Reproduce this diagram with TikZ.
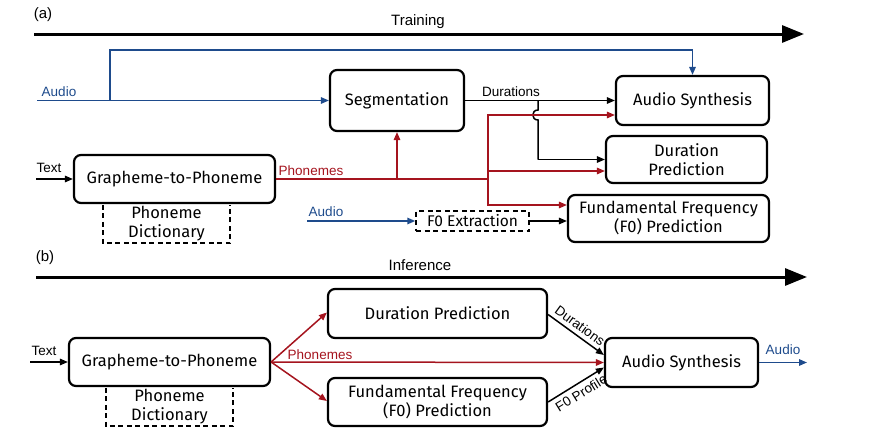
\documentclass[tikz,border=0pt]{standalone}
\usepackage{fontspec}
\setmainfont{Fira Sans}
\newfontfamily\lblfont{Liberation Sans}
\usetikzlibrary{arrows.meta}
\definecolor{cblue}{RGB}{30,75,140}
\definecolor{cred}{RGB}{165,20,30}
\begin{document}
\begin{tikzpicture}[x=1pt,y=-1pt,
  box/.style={draw,line width=2.2pt,rounded corners=7pt,align=center,inner sep=0pt,font=\fontsize{16.5}{19}\selectfont},
  dbox/.style={align=center,inner sep=0pt,font=\fontsize{16.5}{19}\selectfont},
  conn/.style={line width=1.5pt,-{Triangle[length=8pt,width=6.5pt]}},
  lbl/.style={font=\lblfont\fontsize{13.5}{16}\selectfont,inner sep=0pt},
  big/.style={line width=3pt,-{Triangle[length=22pt,width=17pt]}},
  ttl/.style={font=\lblfont\fontsize{15}{18}\selectfont,inner sep=0pt}]
\useasboundingbox (0,0) rectangle (876,447);
% ---------- (a) ----------
\node[ttl] (la) at (43,15) {(a)};
\coordinate (tr0) at (34,34);
\coordinate (tr1) at (804,34);
\draw[big] (tr0) -- (tr1);
\node[ttl] (training) at (418,22) {Training};

\node[box,minimum width=134pt,minimum height=61pt] (seg) at (397,100.5) {Segmentation};
\node[box,minimum width=153pt,minimum height=49pt] (asa) at (692.5,100.5) {Audio Synthesis};
\node[box,minimum width=161pt,minimum height=47pt] (dpa) at (686.5,159.5) {Duration\\Prediction};
\node[box,minimum width=201pt,minimum height=47pt] (f0a) at (668.5,218.5) {Fundamental Frequency\\(F0) Prediction};
\node[box,minimum width=201pt,minimum height=48pt] (g2pa) at (174.5,179) {Grapheme-to-Phoneme};
\node[dbox,minimum width=127pt,minimum height=38pt] (dicta) at (166.5,224) {Phoneme\\Dictionary};
\draw[dashed,line width=1.5pt,dash pattern=on 5pt off 3.5pt] (dicta.north west) |- (dicta.south east) -- (dicta.north east);
\node[dbox,draw,dashed,line width=1.5pt,dash pattern=on 5pt off 3.5pt,minimum width=113pt,minimum height=20pt,font=\fontsize{15.5}{17}\selectfont] (f0x) at (472.5,221) {F0 Extraction};

% blue audio
\coordinate (ain) at (37,100.5);
\coordinate (abr) at (110,100.5);
\coordinate (atop) at (110,50);
\draw[conn,cblue] (ain) -- (seg.west);
\draw[conn,cblue] (abr) -- (atop) -| (asa.north);
\node[lbl,text=cblue] (audioa) at (59,92) {Audio};

% durations
\draw[conn] (seg.east) -- (asa.west);
\node[lbl] (dura) at (511,92) {Durations};
\coordinate (db0) at (538,100.5);
\coordinate (db1) at (538,110);
\coordinate (db2) at (538,120);
\coordinate (db3) at (538,159.5);
\draw[line width=1.5pt] (db0) -- (db1) .. controls (531,110) and (531,120) .. (db2) -- (db3);
\draw[conn] (db3) -- (dpa.west);

% red phonemes
\coordinate (rs) at (397,179);
\coordinate (rj) at (488,179);
\draw[line width=1.5pt,cred] (g2pa.east) -- (rj);
\draw[conn,cred] (rs) -- (seg.south);
\draw[conn,cred] (rj) |- ([yshift=-14.5pt]asa.west);
\draw[conn,cred] (rj) |- ([yshift=-11.5pt]dpa.west);
\draw[conn,cred] (rj) |- ([yshift=13.5pt]f0a.west);
\node[lbl,text=cred] (phona) at (311,171) {Phonemes};

% text in
\coordinate (tin) at (36,179);
\draw[conn] (tin) -- (g2pa.west);
\node[lbl] (texta) at (49,168) {Text};

% lower audio
\coordinate (ain2) at (307,221);
\draw[conn,cblue] (ain2) -- (f0x.west);
\node[lbl,text=cblue] (audioa2) at (326,212) {Audio};
\draw[conn] (f0x.east) -- (f0x.east -| f0a.west);

% ---------- (b) ----------
\node[ttl] (lb) at (45,258) {(b)};
\coordinate (in0) at (36,277);
\coordinate (in1) at (807,277);
\draw[big] (in0) -- (in1);
\node[ttl] (inference) at (420,265) {Inference};

\node[box,minimum width=201pt,minimum height=48pt] (g2pb) at (169.5,362) {Grapheme-to-Phoneme};
\node[dbox,minimum width=127pt,minimum height=38pt] (dictb) at (169.5,407) {Phoneme\\Dictionary};
\draw[dashed,line width=1.5pt,dash pattern=on 5pt off 3.5pt] (dictb.north west) |- (dictb.south east) -- (dictb.north east);
\node[box,minimum width=219pt,minimum height=49pt] (dpb) at (437.5,313.5) {Duration Prediction};
\node[box,minimum width=219pt,minimum height=48pt] (f0b) at (437.5,402) {Fundamental Frequency\\(F0) Prediction};
\node[box,minimum width=153pt,minimum height=49pt] (asb) at (681.5,362.5) {Audio Synthesis};

\coordinate (tinb) at (30,362);
\draw[conn] (tinb) -- (g2pb.west);
\node[lbl] (textb) at (44,351) {Text};

\draw[conn,cred] (g2pb.east) -- ([yshift=1pt]dpb.west);
\draw[conn,cred] (g2pb.east) -- ([yshift=1pt]f0b.west);
\draw[conn,cred] (g2pb.east) -- (asb.west);
\node[lbl,text=cred] (phonb) at (320,355) {Phonemes};

\draw[conn] ([yshift=-1pt]dpb.east) -- node[lbl,sloped,above=4pt,pos=0.47] (durb) {Durations} ([yshift=7.5pt]asb.west);
\draw[conn] (f0b.east) -- node[lbl,sloped,below=4pt,pos=0.5] (f0prof) {F0 Profile} ([yshift=-5pt]asb.west);

\coordinate (aout) at (807,362.5);
\draw[conn,cblue] (asb.east) -- (aout);
\node[lbl,text=cblue] (audiob) at (783,350) {Audio};
\end{tikzpicture}
\end{document}
